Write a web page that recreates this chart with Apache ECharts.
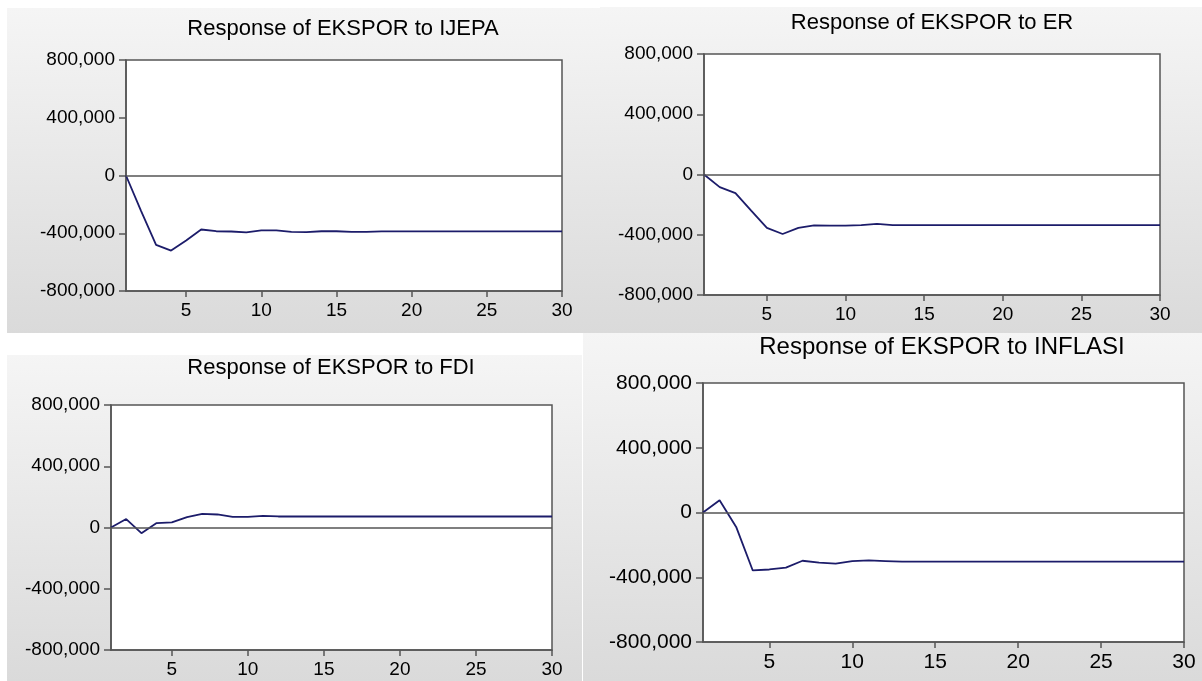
<!DOCTYPE html>
<html>
<head>
<meta charset="utf-8">
<script src="https://cdn.jsdelivr.net/npm/echarts@6/dist/echarts.min.js"></script>
<style>
  html, body { margin: 0; padding: 0; background: #fff; }
  #chart { width: 1202px; height: 681px; }
</style>
</head>
<body>
<div id="chart"></div>
<script>
  // impulse response horizon
  var steps = [1, 2, 3, 4, 5, 6, 7, 8, 9, 10, 11, 12, 13, 14, 15, 16, 17, 18, 19, 20, 21, 22, 23, 24, 25, 26, 27, 28, 29, 30]
  var xTicks = [5, 10, 15, 20, 25, 30]
  var yTicks = [-800000, -400000, 0, 400000, 800000]

  var titles = ['Response of EKSPOR to IJEPA', 'Response of EKSPOR to ER', 'Response of EKSPOR to FDI', 'Response of EKSPOR to INFLASI']

  // responses
  var ijepa = [0, -245000, -480000, -520000, -450000, -374000, -386000, -388000, -394000, -380000,
    -380000, -391000, -392000, -386000, -386000, -391000, -391000, -387000, -387000, -387000,
    -387000, -387000, -387000, -387000, -387000, -387000, -387000, -387000, -387000, -387000]
  var er = [0, -84000, -124000, -240000, -354000, -395000, -354000, -338000, -340000, -340000,
    -336000, -328000, -336000, -336000, -336000, -336000, -336000, -336000, -336000, -336000,
    -336000, -336000, -336000, -336000, -336000, -336000, -336000, -336000, -336000, -336000]
  var fdi = [0, 55000, -37000, 29000, 33000, 68000, 89000, 85000, 70000, 70000,
    76000, 72000, 72000, 72000, 72000, 72000, 72000, 72000, 72000, 72000,
    72000, 72000, 72000, 72000, 72000, 72000, 72000, 72000, 72000, 72000]
  var inflasi = [0, 76000, -89000, -358000, -352000, -341000, -298000, -310000, -316000, -300000,
    -296000, -300000, -304000, -304000, -304000, -304000, -304000, -304000, -304000, -304000,
    -304000, -304000, -304000, -304000, -304000, -304000, -304000, -304000, -304000, -304000]

  var responses = [ijepa, er, fdi, inflasi]

  // where each screenshot panel sits
  var panels = [
    { grid: [126, 60, 436, 231], title: [343, 29], tsize: 22, lsize: 19, bg: [7, 8, 593, 325] },
    { grid: [704, 54, 456, 241], title: [932, 23], tsize: 22, lsize: 19, bg: [600, 7, 602, 326] },
    { grid: [111, 405, 441, 245], title: [331, 368], tsize: 22, lsize: 19, bg: [7, 355, 575, 326] },
    { grid: [703, 383, 481, 259], title: [942, 347], tsize: 24, lsize: 21, bg: [583, 333, 619, 348] }
  ]

  var font = '"Liberation Sans", Arial, sans-serif'
  var frame = '#555'

  function fmt (v) {
    return Number(v).toLocaleString('en-US')
  }

  var option = {
    animation: false,
    backgroundColor: '#fff',
    graphic: [],
    title: [],
    grid: [],
    xAxis: [],
    yAxis: [],
    series: []
  }

  panels.forEach(function (p, i) {
    option.graphic.push({
      type: 'rect',
      z: -10,
      silent: true,
      shape: { x: p.bg[0], y: p.bg[1], width: p.bg[2], height: p.bg[3] },
      style: {
        fill: new echarts.graphic.LinearGradient(0, 0, 0, 1, [
          { offset: 0, color: '#f5f5f5' },
          { offset: 1, color: '#dadada' }
        ])
      }
    })

    option.title.push({
      text: titles[i],
      left: p.title[0],
      top: p.title[1],
      textAlign: 'center',
      textVerticalAlign: 'middle',
      padding: 0,
      textStyle: { fontFamily: font, fontSize: p.tsize, fontWeight: 'normal', color: '#000' }
    })

    option.grid.push({
      left: p.grid[0],
      top: p.grid[1],
      width: p.grid[2],
      height: p.grid[3],
      show: true,
      backgroundColor: '#fff',
      borderColor: frame,
      borderWidth: 1.5
    })

    option.xAxis.push({
      type: 'value',
      gridIndex: i,
      min: 1,
      max: 30,
      splitLine: { show: false },
      axisLine: { show: true, onZero: false, lineStyle: { color: frame, width: 1.5 } },
      axisTick: { show: true, length: 6, customValues: xTicks, lineStyle: { color: frame, width: 1.5 } },
      axisLabel: { customValues: xTicks, margin: 10, fontFamily: font, fontSize: p.lsize, color: '#000' }
    })

    option.yAxis.push({
      type: 'value',
      gridIndex: i,
      min: -800000,
      max: 800000,
      splitLine: { show: false },
      axisLine: { show: true, onZero: false, lineStyle: { color: frame, width: 1.5 } },
      axisTick: { show: true, length: 7, customValues: yTicks, lineStyle: { color: frame, width: 1.5 } },
      axisLabel: { customValues: yTicks, margin: 11, fontFamily: font, fontSize: p.lsize, color: '#000', formatter: fmt }
    })

    option.series.push({
      type: 'line',
      xAxisIndex: i,
      yAxisIndex: i,
      showSymbol: false,
      symbol: 'none',
      silent: true,
      lineStyle: { color: '#1c1c6a', width: 1.8 },
      data: steps.map(function (s, k) { return [s, responses[i][k]] }),
      markLine: {
        silent: true,
        symbol: 'none',
        label: { show: false },
        lineStyle: { color: '#555', width: 1.5, type: 'solid' },
        data: [{ yAxis: 0 }]
      }
    })
  })

  var myChart = echarts.init(document.getElementById('chart'))
  myChart.setOption(option)
</script>
</body>
</html>
